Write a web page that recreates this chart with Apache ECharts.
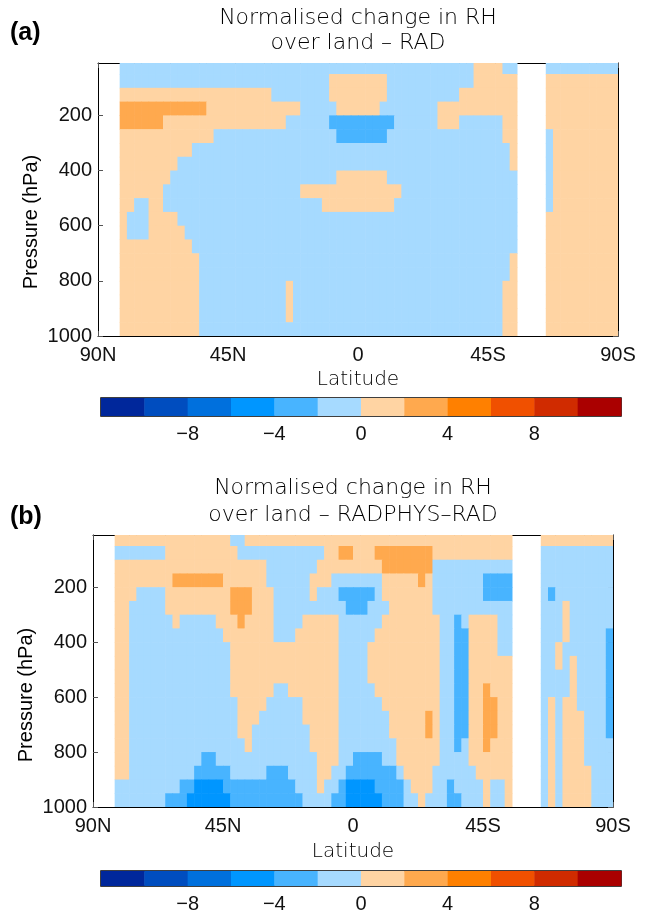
<!DOCTYPE html>
<html>
<head>
<meta charset="utf-8">
<script src="https://cdn.jsdelivr.net/npm/echarts@6.0.0/dist/echarts.min.js"></script>
<style>
html, body { margin: 0; padding: 0; background: #fff; }
#c { width: 648px; height: 914px; }
</style>
</head>
<body>
<div id="c"></div>
<script>
// Zonal-mean RH change over land.
// Grid: 72 latitude bands of 2.5 deg (90N -> 90S), 20 pressure layers (top -> 1000 hPa).
// Each row is run-length coded: "<count><class>", class letters below, '.' = no land.
const latEdges = Array.from({ length: 73 }, (_, i) => 90 - 2.5 * i);
const presEdges = [10, 50, 100, 150, 200, 250, 300, 350, 400, 450, 500, 550, 600, 650, 700, 750, 800, 850, 900, 950, 1000];
const levelValue = { D: -5, B: -3, b: -1, p: 1, o: 3 };

const radRows = [
  '3. 49b 4p 2b 4. 10b',
  '3. 29b 8p 12b 6p 4. 10p',
  '3. 21p 8b 8p 10b 8p 4. 10p',
  '3. 12o 13p 5b 6p 8b 11p 4. 10p',
  '3. 6o 17p 6b 9B 6b 3p 6b 2p 4. 10p',
  '3. 13p 17b 7B 16b 2p 4. 1b 9p',
  '3. 10p 44b 1p 4. 1b 9p',
  '3. 8p 46b 1p 4. 1b 9p',
  '3. 7p 23b 7p 18b 4. 1b 9p',
  '3. 6p 19b 14p 16b 4. 1b 9p',
  '3. 2p 2b 2p 22b 10p 17b 4. 1b 9p',
  '3. 1p 3b 4p 47b 4. 10p',
  '3. 1p 3b 5p 46b 4. 10p',
  '3. 10p 45b 4. 10p',
  '3. 11p 43b 1p 4. 10p',
  '3. 11p 43b 1p 4. 10p',
  '3. 11p 12b 1p 29b 2p 4. 10p',
  '3. 11p 12b 1p 29b 2p 4. 10p',
  '3. 11p 12b 1p 29b 2p 4. 10p',
  '3. 11p 42b 2p 4. 10p',
];

const radphysRows = [
  '3. 16p 2b 37p 4. 10p',
  '3. 7b 10p 12b 2p 2o 3p 8o 11p 4. 10b',
  '3. 21p 7b 9p 7o 11b 4. 10b',
  '3. 8p 7o 6p 6b 3p 7b 5p 1o 1p 7b 4B 4. 10b',
  '3. 3p 4b 9p 3o 3p 5b 1p 3b 5B 1b 7p 7b 4B 4. 1b 1B 8b',
  '3. 2p 5b 9p 3o 3p 10b 3B 3b 6p 11b 4. 3b 1p 6b',
  '3. 2p 6b 1p 5b 3p 1o 4p 4b 5p 6b 8p 2b 1B 1b 4p 2b 4. 3b 1p 6b',
  '3. 2p 13b 7p 3b 6p 5b 9p 2b 2B 4p 2b 4. 3b 1p 5b 1B',
  '3. 2p 14b 15p 4b 10p 2b 2B 4p 2b 4. 2b 1p 6b 1B',
  '3. 2p 14b 15p 4b 10p 2b 2B 6p 4. 2b 1p 1b 1p 4b 1B',
  '3. 2p 14b 15p 4b 10p 2b 2B 6p 4. 4b 1p 4b 1B',
  '3. 2p 14b 6p 2b 7p 5b 9p 2b 2B 2p 1o 3p 4. 4b 1p 4b 1B',
  '3. 2p 15b 4p 5b 5p 6b 8p 2b 2B 2p 2o 2p 4. 1b 1p 1b 2p 4b 1B',
  '3. 2p 15b 3p 6b 5p 7b 5p 1o 1p 2b 2B 2p 2o 2p 4. 1b 1p 1b 3p 3b 1B',
  '3. 2p 15b 2p 8b 4p 7b 5p 1o 1p 2b 2B 2p 2o 2p 4. 1b 1p 1b 3p 3b 1B',
  '3. 2p 16b 1p 8b 4p 8b 6p 2b 1B 1b 2p 1o 3p 4. 1b 1p 1b 3p 4b',
  '3. 2p 10b 2B 14b 3p 2b 4B 2b 6p 4b 6p 4. 1b 1p 1b 3p 4b',
  '3. 2p 9b 5B 5b 3B 4b 2p 2b 7B 1b 4p 6b 5p 4. 1b 1p 1b 4p 3b',
  '3. 9b 2B 4D 10B 3b 1p 2b 1B 4D 4B 1b 3p 2b 1B 4b 1p 2b 1p 4. 1b 1p 1b 4p 3b',
  '3. 7b 3B 6D 10B 4b 2B 5D 3B 2b 1p 3b 2B 3b 1p 2b 1p 4. 1b 1p 1b 4p 3b',
];

const binEdges = [-12, -10, -8, -6, -4, -2, 0, 2, 4, 6, 8, 10, 12];
const binColors = ['#00279b', '#004dbf', '#0070dd', '#0096ff', '#48b4ff', '#a6daff',
                   '#ffd4a3', '#ffa94e', '#ff8000', '#f05000', '#d02b00', '#aa0000'];
const presTicks = [200, 400, 600, 800, 1000];

const FONT = '"Liberation Sans", Arial, sans-serif';
const TITLE_FONT = '"DejaVu Sans", sans-serif';

function decodeRows(rows) {
  return rows.map((r) => r.split(' ').flatMap((tok) => Array(parseInt(tok, 10)).fill(tok.slice(-1))));
}

function buildCells(rows) {
  const cells = [];
  decodeRows(rows).forEach((row, r) => {
    if (row.length !== 72) console.warn('row', r, 'has', row.length, 'cells');
    row.forEach((ch, c) => {
      if (!(ch in levelValue)) return;
      cells.push([latEdges[c], latEdges[c + 1], presEdges[r], presEdges[r + 1], levelValue[ch]]);
    });
  });
  return cells;
}

function cellItem(params, api) {
  const a = api.coord([api.value(0), api.value(2)]);
  const b = api.coord([api.value(1), api.value(3)]);
  return {
    type: 'rect',
    shape: { x: Math.min(a[0], b[0]), y: Math.min(a[1], b[1]), width: Math.abs(b[0] - a[0]) + 0.6, height: Math.abs(b[1] - a[1]) + 0.6 },
    style: { fill: api.visual('color') },
  };
}

function barItem(params, api) {
  const a = api.coord([api.value(0), 0]);
  const b = api.coord([api.value(1), 1]);
  return {
    type: 'rect',
    shape: { x: a[0], y: b[1], width: b[0] - a[0] + 0.5, height: a[1] - b[1] },
    style: { fill: binColors[api.value(2)] },
  };
}

const latLabel = (v) => (v === 0 ? '0' : v > 0 ? v + 'N' : -v + 'S');
const barLabel = (v) => (Math.abs(v) === 12 ? '' : v < 0 ? '\u2212' + -v : String(v));

const frameLine = { show: true, onZero: false, lineStyle: { color: '#000', width: 1 } };
const inTick = { show: true, inside: true, length: 5, lineStyle: { color: '#555' } };

function panelX(gridIndex) {
  const base = { gridIndex, type: 'value', min: -90, max: 90, interval: 45, inverse: true, splitLine: { show: false }, axisLine: frameLine, axisTick: inTick };
  return [
    { ...base, position: 'bottom', axisLabel: { formatter: latLabel, fontSize: 20, color: '#111', margin: 9, fontFamily: FONT, showMinLabel: true, showMaxLabel: true } },
    { ...base, position: 'top', axisLabel: { show: false } },
  ];
}

function panelY(gridIndex) {
  const base = { gridIndex, type: 'value', min: 10, max: 1000, inverse: true, splitLine: { show: false }, axisLine: frameLine,
                 axisTick: { ...inTick, customValues: presTicks } };
  return [
    { ...base, position: 'left', axisLabel: { customValues: presTicks, formatter: (v) => String(v), fontSize: 20, color: '#111', margin: 6, fontFamily: FONT } },
    { ...base, position: 'right', axisLabel: { show: false } },
  ];
}

function barX(gridIndex) {
  return { gridIndex, type: 'value', min: -12, max: 12, interval: 4, splitLine: { show: false }, axisLine: { show: false }, axisTick: { show: false },
           axisLabel: { formatter: barLabel, fontSize: 20, color: '#111', margin: 8, fontFamily: FONT, showMinLabel: true, showMaxLabel: true } };
}
const barY = (gridIndex) => ({ gridIndex, type: 'value', min: 0, max: 1, show: false });

function text(x, y, str, extra, rotation) {
  return { type: 'text', x, y, rotation: rotation || 0,
           style: { text: str, fill: '#000', fontSize: 20, fontFamily: FONT, align: 'center', verticalAlign: 'middle', ...extra } };
}

const chart = echarts.init(document.getElementById('c'));
chart.setOption({
  animation: false,
  backgroundColor: '#fff',
  grid: [
    { left: 98, top: 63, width: 520, height: 273 },
    { left: 101, top: 398, width: 520, height: 18, show: true, borderColor: '#000', borderWidth: 1.5 },
    { left: 93, top: 535, width: 520, height: 272 },
    { left: 101, top: 871, width: 520, height: 18, show: true, borderColor: '#000', borderWidth: 1.5 },
  ],
  xAxis: [...panelX(0), barX(1), ...panelX(2), barX(3)],
  yAxis: [...panelY(0), barY(1), ...panelY(2), barY(3)],
  visualMap: {
    type: 'piecewise', show: false, dimension: 4, seriesIndex: [0, 2],
    pieces: binColors.map((color, i) => ({ gte: binEdges[i], lt: binEdges[i + 1], color })),
  },
  series: [
    { type: 'custom', xAxisIndex: 0, yAxisIndex: 0, renderItem: cellItem, clip: true, encode: { x: [0, 1], y: [2, 3] }, data: buildCells(radRows) },
    { type: 'custom', xAxisIndex: 2, yAxisIndex: 2, renderItem: barItem, encode: { x: [0, 1] }, data: binColors.map((c, i) => [binEdges[i], binEdges[i + 1], i]) },
    { type: 'custom', xAxisIndex: 3, yAxisIndex: 3, renderItem: cellItem, clip: true, encode: { x: [0, 1], y: [2, 3] }, data: buildCells(radphysRows) },
    { type: 'custom', xAxisIndex: 5, yAxisIndex: 5, renderItem: barItem, encode: { x: [0, 1] }, data: binColors.map((c, i) => [binEdges[i], binEdges[i + 1], i]) },
  ],
  graphic: [
    text(10, 33, '(a)', { align: 'left', fontSize: 25, fontWeight: 'bold' }),
    text(358, 18, 'Normalised change in RH', { fontFamily: TITLE_FONT, fontSize: 22, fontWeight: 200 }),
    text(358, 43, 'over land \u2013 RAD', { fontFamily: TITLE_FONT, fontSize: 22, fontWeight: 200 }),
    text(31, 222, 'Pressure (hPa)', {}, Math.PI / 2),
    text(358, 380, 'Latitude', { fontFamily: TITLE_FONT, fontWeight: 200 }),
    text(10, 517, '(b)', { align: 'left', fontSize: 25, fontWeight: 'bold' }),
    text(353, 488, 'Normalised change in RH', { fontFamily: TITLE_FONT, fontSize: 22, fontWeight: 200 }),
    text(353, 515, 'over land \u2013 RADPHYS\u2013RAD', { fontFamily: TITLE_FONT, fontSize: 22, fontWeight: 200 }),
    text(26, 695, 'Pressure (hPa)', {}, Math.PI / 2),
    text(353, 852, 'Latitude', { fontFamily: TITLE_FONT, fontWeight: 200 }),
  ],
});
</script>
</body>
</html>
